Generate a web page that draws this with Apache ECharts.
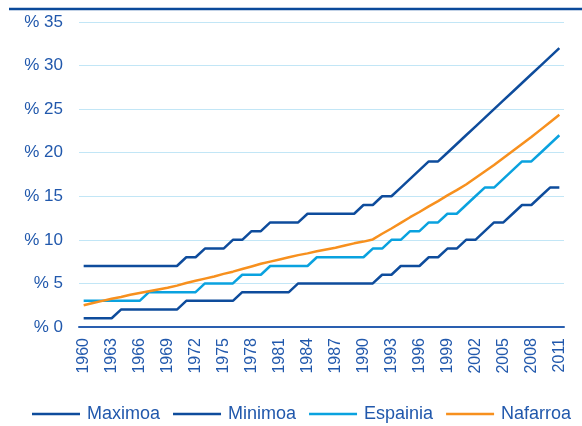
<!DOCTYPE html>
<html>
<head>
<meta charset="utf-8">
<script src="https://cdn.jsdelivr.net/npm/echarts@6/dist/echarts.min.js"></script>
<style>
  html, body { margin: 0; padding: 0; background: #ffffff; }
  #chart { width: 582px; height: 426px; }
</style>
</head>
<body>
<div id="chart"></div>
<script>
// Years 1960–2011
const years = [];
for (let y = 1960; y <= 2011; y++) years.push(String(y));

const seriesNames = ['Maximoa', 'Minimoa', 'Espainia', 'Nafarroa'];

const maximoa = [
  7, 7, 7, 7, 7, 7, 7, 7, 7, 7,          // 1960-1969
  7, 8, 8, 9, 9, 9, 10, 10, 11, 11,      // 1970-1979
  12, 12, 12, 12, 13, 13, 13, 13, 13, 13, // 1980-1989
  14, 14, 15, 15, 16, 17, 18, 19, 19, 20, // 1990-1999
  21, 22, 23, 24, 25, 26, 27, 28, 29, 30, // 2000-2009
  31, 32                                  // 2010-2011
];

const minimoa = [
  1, 1, 1, 1, 2, 2, 2, 2, 2, 2,
  2, 3, 3, 3, 3, 3, 3, 4, 4, 4,
  4, 4, 4, 5, 5, 5, 5, 5, 5, 5,
  5, 5, 6, 6, 7, 7, 7, 8, 8, 9,
  9, 10, 10, 11, 12, 12, 13, 14, 14, 15,
  16, 16
];

const espainia = [
  3, 3, 3, 3, 3, 3, 3, 4, 4, 4,
  4, 4, 4, 5, 5, 5, 5, 6, 6, 6,
  7, 7, 7, 7, 7, 8, 8, 8, 8, 8,
  8, 9, 9, 10, 10, 11, 11, 12, 12, 13,
  13, 14, 15, 16, 16, 17, 18, 19, 19, 20,
  21, 22
];

const nafarroa = [
  2.5, 2.75, 3.0, 3.25, 3.45, 3.7, 3.9, 4.1, 4.3, 4.5,
  4.75, 5.05, 5.3, 5.55, 5.8, 6.1, 6.35, 6.65, 6.95, 7.25,
  7.5, 7.75, 8.0, 8.25, 8.45, 8.7, 8.9, 9.1, 9.35, 9.6,
  9.8, 10.05, 10.7, 11.3, 11.95, 12.6, 13.2, 13.85, 14.45, 15.1,
  15.7, 16.35, 17.1, 17.85, 18.6, 19.4, 20.2, 21.0, 21.8, 22.65,
  23.5, 24.35
];

const yTicks = [0, 5, 10, 15, 20, 25, 30, 35];

const darkBlue = '#0E4C9C';
const lightBlue = '#0AA2DF';
const orange = '#F7901E';
const textBlue = '#2158AC';
const font = 'Liberation Sans, Arial, sans-serif';

const chart = echarts.init(document.getElementById('chart'), null, { renderer: 'canvas' });

function lineSeries(name, data, color) {
  return {
    name: name,
    type: 'line',
    data: data,
    symbol: 'none',
    smooth: false,
    lineStyle: { color: color, width: 2.5 },
    itemStyle: { color: color },
    emphasis: { disabled: true }
  };
}

chart.setOption({
  animation: false,
  backgroundColor: '#ffffff',
  graphic: [{
    type: 'line',
    shape: { x1: 9, y1: 9, x2: 582, y2: 9 },
    style: { stroke: '#0B4A9A', lineWidth: 2.5 }
  }],
  grid: { left: 79, right: 18, top: 22, bottom: 99 },
  legend: {
    data: seriesNames,
    bottom: -2,
    left: 27,
    icon: 'rect',
    itemWidth: 48,
    itemHeight: 2.5,
    itemGap: 13,
    textStyle: { color: textBlue, fontSize: 18, fontFamily: font, padding: [0, 0, 0, 2] }
  },
  xAxis: {
    type: 'category',
    data: years,
    boundaryGap: true,
    axisLine: { lineStyle: { color: '#2A5FB0', width: 2 } },
    axisTick: { interval: 2, length: 5, lineStyle: { color: '#2A5FB0', width: 2 } },
    axisLabel: {
      interval: 2,
      rotate: 90,
      margin: 11,
      color: textBlue,
      fontSize: 16,
      fontFamily: font
    },
    splitLine: { show: false }
  },
  yAxis: {
    type: 'value',
    min: yTicks[0],
    max: yTicks[yTicks.length - 1],
    interval: 5,
    axisLine: { show: false },
    axisTick: { show: false },
    axisLabel: {
      margin: 16,
      color: textBlue,
      fontSize: 17,
      fontFamily: font,
      formatter: function (v) { return '% ' + v; }
    },
    splitLine: { lineStyle: { color: '#C2E6F6', width: 1 } }
  },
  series: [
    lineSeries('Maximoa', maximoa, darkBlue),
    lineSeries('Minimoa', minimoa, darkBlue),
    lineSeries('Espainia', espainia, lightBlue),
    lineSeries('Nafarroa', nafarroa, orange)
  ]
});
</script>
</body>
</html>
